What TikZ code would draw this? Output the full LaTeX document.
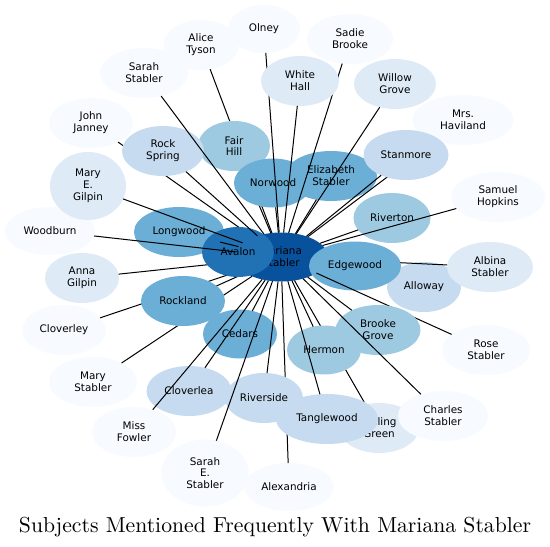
\documentclass[tikz,border=0pt]{standalone}
\usepackage{fontspec}
\usepackage{graphicx}
\usetikzlibrary{shapes.geometric}
\newfontfamily\nodefont{DejaVu Sans}
\definecolor{cA}{HTML}{08519C}
\definecolor{cB}{HTML}{2171B5}
\definecolor{cC}{HTML}{6BAED6}
\definecolor{cD}{HTML}{9ECAE1}
\definecolor{cE}{HTML}{C6DBEF}
\definecolor{cF}{HTML}{DEEBF7}
\definecolor{cG}{HTML}{F7FBFF}
\tikzset{
  bub/.style={ellipse, draw=none, inner sep=0pt, outer sep=0pt, align=center,
    font=\nodefont\fontsize{10.4}{11.8}\selectfont, text=black},
  link/.style={draw=black, line width=1pt},
  titletext/.style={anchor=base, inner sep=0pt, font=\rmfamily}
}
% \bub{name}{x}{y}{width}{height}{colour}{text}
\newcommand{\bub}[7]{\node[bub, fill=#6, minimum width=#4pt, minimum height=#5pt] (#1) at (#2,#3) {#7};}
\newcommand{\lnk}[1]{\draw[link] (ms) -- (#1);}
\begin{document}
\begin{tikzpicture}[x=1pt,y=-1pt]
\fill[white] (0,0) rectangle (550,547);
\useasboundingbox (0,0) rectangle (550,547);

\bub{ms}{281}{257}{94}{49}{cA}{Mariana\\Stabler}

\bub{at}{201}{45}{75}{50}{cG}{Alice\\Tyson} \lnk{at}
\bub{jj}{91}{123}{84}{50}{cG}{John\\Janney} \lnk{jj}
\bub{ag}{82}{278}{74}{50}{cF}{Anna\\Gilpin} \lnk{ag}
\bub{rg}{379}{428}{80}{50}{cF}{Rolling\\Green} \lnk{rg}
\bub{ax}{289}{487}{89}{48}{cG}{Alexandria} \lnk{ax}
\bub{cy}{64}{330}{83}{50}{cG}{Cloverley} \lnk{cy}
\bub{mst}{93}{382}{88}{50}{cG}{Mary\\Stabler} \lnk{mst}
\bub{fh}{234}{146}{72}{50}{cD}{Fair\\Hill} \lnk{fh}
\bub{es}{331}{176}{92}{50}{cC}{Elizabeth\\Stabler} \lnk{es}
\bub{nw}{273}{183}{78}{49}{cC}{Norwood} \lnk{nw}
\bub{mh}{463}{120}{101}{50}{cG}{Mrs.\\Haviland} \lnk{mh}
\bub{sm}{406}{155}{85}{50}{cE}{Stanmore} \lnk{sm}
\bub{ol}{264}{29}{72}{48}{cG}{Olney} \lnk{ol}
\bub{sb}{350}{39}{86}{50}{cG}{Sadie\\Brooke} \lnk{sb}
\bub{wh}{300}{81}{78}{50}{cF}{White\\Hall} \lnk{wh}
\bub{wg}{395}{84}{82}{50}{cF}{Willow\\Grove} \lnk{wg}
\bub{rv}{392}{218}{77}{50}{cD}{Riverton} \lnk{rv}
\bub{sh}{498}{197}{94}{50}{cG}{Samuel\\Hopkins} \lnk{sh}
\bub{al}{424}{287}{74}{50}{cE}{Alloway} \lnk{al}
\bub{abs}{490}{267}{86}{50}{cF}{Albina\\Stabler} \lnk{abs}
\bub{ew}{355}{266}{92}{49}{cC}{Edgewood}
\bub{rs}{486}{350}{88}{50}{cG}{Rose\\Stabler} \lnk{rs}
\bub{rl}{183}{301}{84}{50}{cC}{Rockland} \lnk{rl}
\bub{lw}{179}{232}{90}{50}{cC}{Longwood}
\bub{av}{238}{252}{72}{50}{cB}{Avalon}
\lnk{lw}
\bub{cd}{240}{334}{74}{49}{cC}{Cedars} \lnk{cd}
\bub{rsp}{163}{151}{82}{50}{cE}{Rock\\Spring} \lnk{rsp}
\bub{sst}{144}{73}{88}{50}{cG}{Sarah\\Stabler} \lnk{sst}
\bub{cl}{189}{391}{85}{50}{cE}{Cloverlea} \lnk{cl}
\bub{rd}{264}{398}{78}{50}{cE}{Riverside} \lnk{rd}
\bub{mf}{134}{432}{84}{50}{cG}{Miss\\Fowler} \lnk{mf}
\bub{se}{205}{473}{87}{67}{cG}{Sarah\\E.\\Stabler} \lnk{se}
\bub{bg}{378}{330}{85}{50}{cD}{Brooke\\Grove} \lnk{bg}
\bub{hm}{324}{350}{74}{49}{cD}{Hermon} \lnk{hm}
\bub{tw}{327}{419}{102}{50}{cE}{Tanglewood} \lnk{tw}
\bub{cs}{443}{416}{90}{50}{cG}{Charles\\Stabler} \lnk{cs}
\bub{wb}{50}{231}{90}{48}{cG}{Woodburn} \lnk{wb}
\bub{mg}{88}{186}{76}{68}{cF}{Mary\\E.\\Gilpin} \lnk{mg}

\node[titletext] (title) at (275,532) {\resizebox{512pt}{!}{Subjects Mentioned Frequently With Mariana Stabler}};
\end{tikzpicture}
\end{document}
